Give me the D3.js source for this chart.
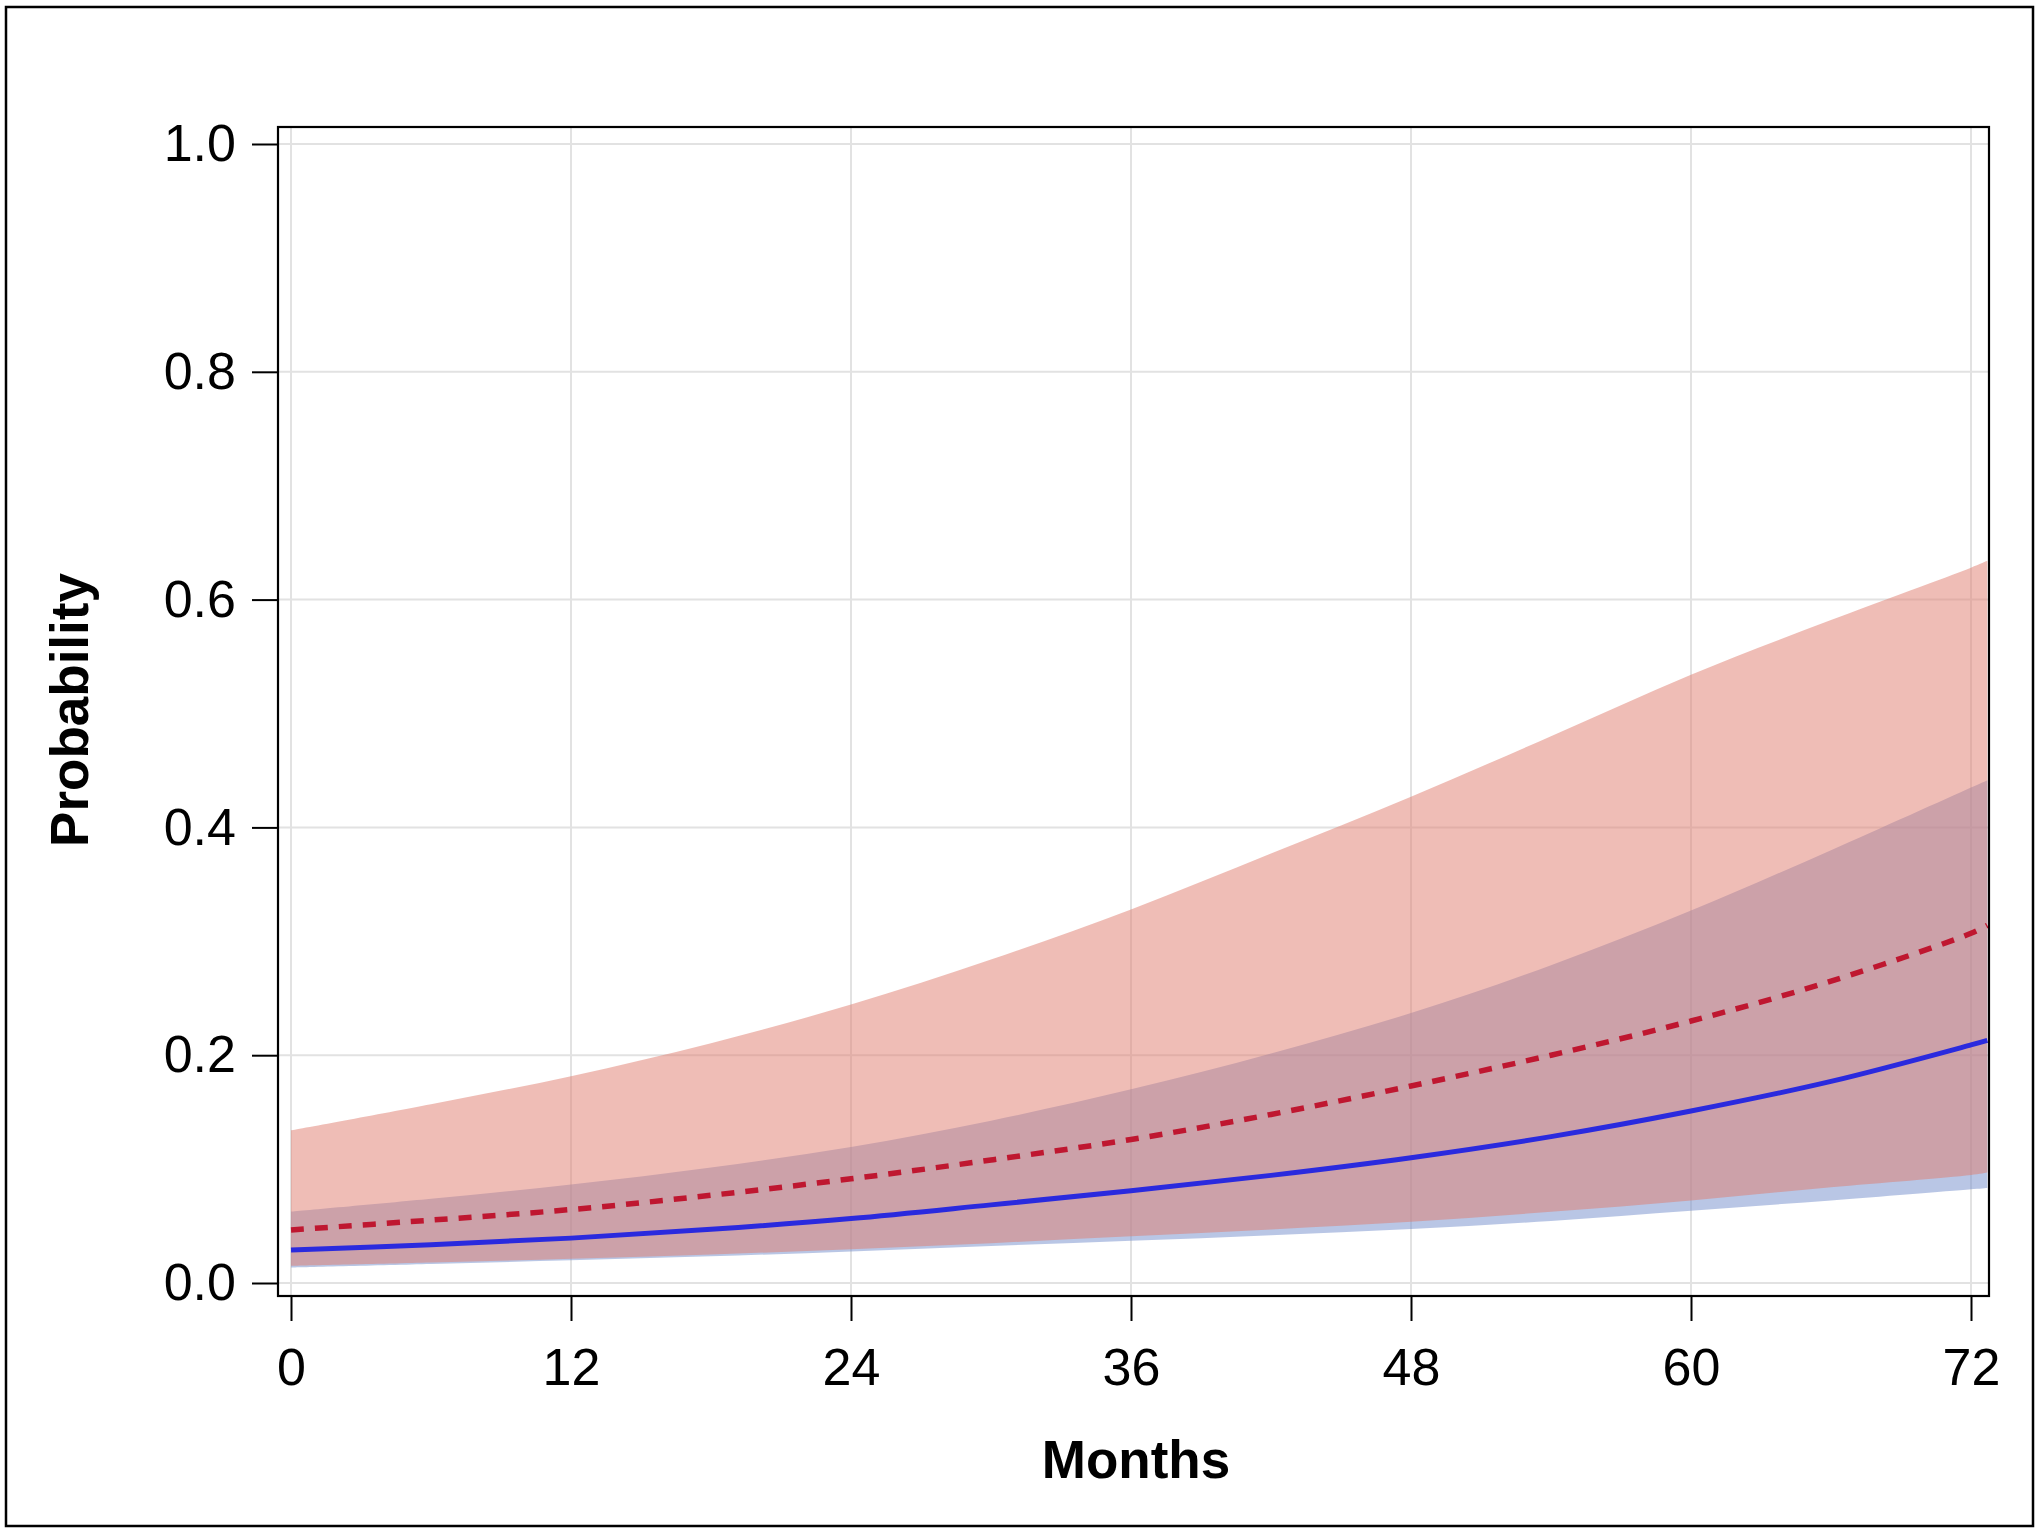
<!DOCTYPE html>
<html>
<head>
<meta charset="utf-8">
<script src="https://cdn.jsdelivr.net/npm/d3@7"></script>
<style>
  html, body { margin: 0; padding: 0; background: #fff; }
  svg { display: block; }
  text { font-family: "Liberation Sans", Arial, sans-serif; fill: #000; }
</style>
</head>
<body>
<svg id="chart" width="2040" height="1533"></svg>
<script>
// ---- data ----
const months    = [0, 6, 12, 18, 24, 30, 36, 42, 48, 54, 60, 66, 72, 72.7];
const blueLine  = [0.029, 0.0336, 0.0394, 0.0471, 0.0566, 0.0686, 0.081, 0.0945, 0.110, 0.1285, 0.151, 0.177, 0.209, 0.213];
const blueLower = [0.0135, 0.0166, 0.0199, 0.0234, 0.0277, 0.0325, 0.037, 0.042, 0.0474, 0.0545, 0.0635, 0.0725, 0.0823, 0.0835];
const blueUpper = [0.0627, 0.0740, 0.0865, 0.1015, 0.1195, 0.1425, 0.170, 0.2015, 0.237, 0.279, 0.327, 0.380, 0.435, 0.4415];
const redLine   = [0.0466, 0.0552, 0.0645, 0.0770, 0.0915, 0.108, 0.126, 0.148, 0.173, 0.200, 0.230, 0.265, 0.307, 0.314];
const redLower  = [0.0151, 0.018, 0.0213, 0.0250, 0.0297, 0.035, 0.041, 0.047, 0.0537, 0.0625, 0.0725, 0.084, 0.0948, 0.097];
const redUpper  = [0.134, 0.157, 0.1816, 0.2105, 0.2445, 0.284, 0.328, 0.377, 0.427, 0.480, 0.534, 0.582, 0.628, 0.634];
const xTicks = [0, 12, 24, 36, 48, 60, 72];
const yTicks = [0, 0.2, 0.4, 0.6, 0.8, 1.0];
const xTitle = "Months";
const yTitle = "Probability";

// ---- layout ----
const svg = d3.select("#chart");
const frame = { left: 278, top: 127, right: 1989, bottom: 1296 };
const x = d3.scaleLinear().domain([0, 72]).range([291, 1971]);
const y = d3.scaleLinear().domain([0, 1]).range([1283, 144]);

// outer border
svg.append("rect").attr("x", 6).attr("y", 7).attr("width", 2027).attr("height", 1519)
  .attr("fill", "#fff").attr("stroke", "#000").attr("stroke-width", 2.5);

// clip
svg.append("defs").append("clipPath").attr("id", "clip")
  .append("rect").attr("x", frame.left).attr("y", frame.top)
  .attr("width", frame.right - frame.left).attr("height", frame.bottom - frame.top);

// gridlines
const grid = svg.append("g").attr("clip-path", "url(#clip)");
grid.selectAll("line.h").data(yTicks).join("line")
  .attr("x1", frame.left).attr("x2", frame.right)
  .attr("y1", d => y(d)).attr("y2", d => y(d))
  .attr("stroke", "#e2e2e2").attr("stroke-width", 2);
grid.selectAll("line.v").data(xTicks).join("line")
  .attr("y1", frame.top).attr("y2", frame.bottom)
  .attr("x1", d => x(d)).attr("x2", d => x(d))
  .attr("stroke", "#e2e2e2").attr("stroke-width", 2);

const rows = months.map((m, i) => ({
  m, bl: blueLine[i], blo: blueLower[i], bhi: blueUpper[i],
  rl: redLine[i], rlo: redLower[i], rhi: redUpper[i]
}));

const plot = svg.append("g").attr("clip-path", "url(#clip)");
const curve = d3.curveCatmullRom.alpha(0.5);

const blueArea = d3.area().x(d => x(d.m)).y0(d => y(d.blo)).y1(d => y(d.bhi)).curve(curve);
const redArea  = d3.area().x(d => x(d.m)).y0(d => y(d.rlo)).y1(d => y(d.rhi)).curve(curve);

plot.append("path").datum(rows).attr("d", blueArea)
  .attr("fill", "rgb(115,141,203)").attr("fill-opacity", 0.5);
plot.append("path").datum(rows).attr("d", redArea)
  .attr("fill", "rgb(223,123,109)").attr("fill-opacity", 0.5);

const blueL = d3.line().x(d => x(d.m)).y(d => y(d.bl)).curve(curve);
const redL  = d3.line().x(d => x(d.m)).y(d => y(d.rl)).curve(curve);

plot.append("path").datum(rows).attr("d", blueL)
  .attr("fill", "none").attr("stroke", "#2a2ade").attr("stroke-width", 5);
plot.append("path").datum(rows).attr("d", redL)
  .attr("fill", "none").attr("stroke", "#bf1730").attr("stroke-width", 5.5)
  .attr("stroke-dasharray", "13,11");

// frame
svg.append("rect").attr("x", frame.left).attr("y", frame.top)
  .attr("width", frame.right - frame.left).attr("height", frame.bottom - frame.top)
  .attr("fill", "none").attr("stroke", "#000").attr("stroke-width", 2.2);

// axes
const yAxis = svg.append("g").attr("transform", `translate(${frame.left},0)`)
  .call(d3.axisLeft(y).tickValues(yTicks).tickFormat(d3.format(".1f")).tickSize(26).tickPadding(16));
const xAxis = svg.append("g").attr("transform", `translate(0,${frame.bottom})`)
  .call(d3.axisBottom(x).tickValues(xTicks).tickFormat(d3.format("d")).tickSize(25).tickPadding(27));
[yAxis, xAxis].forEach(a => {
  a.select(".domain").remove();
  a.selectAll(".tick line").attr("stroke", "#000").attr("stroke-width", 2);
  a.selectAll(".tick text").attr("font-size", 52)
    .attr("font-family", "'Liberation Sans', Arial, sans-serif").attr("fill", "#000");
});

// titles
svg.append("text").attr("x", 1136).attr("y", 1478).attr("text-anchor", "middle")
  .attr("font-size", 53).attr("font-weight", "bold").text(xTitle);
svg.append("text").attr("transform", "translate(88,710) rotate(-90)").attr("text-anchor", "middle")
  .attr("font-size", 53).attr("font-weight", "bold").text(yTitle);
</script>
</body>
</html>
